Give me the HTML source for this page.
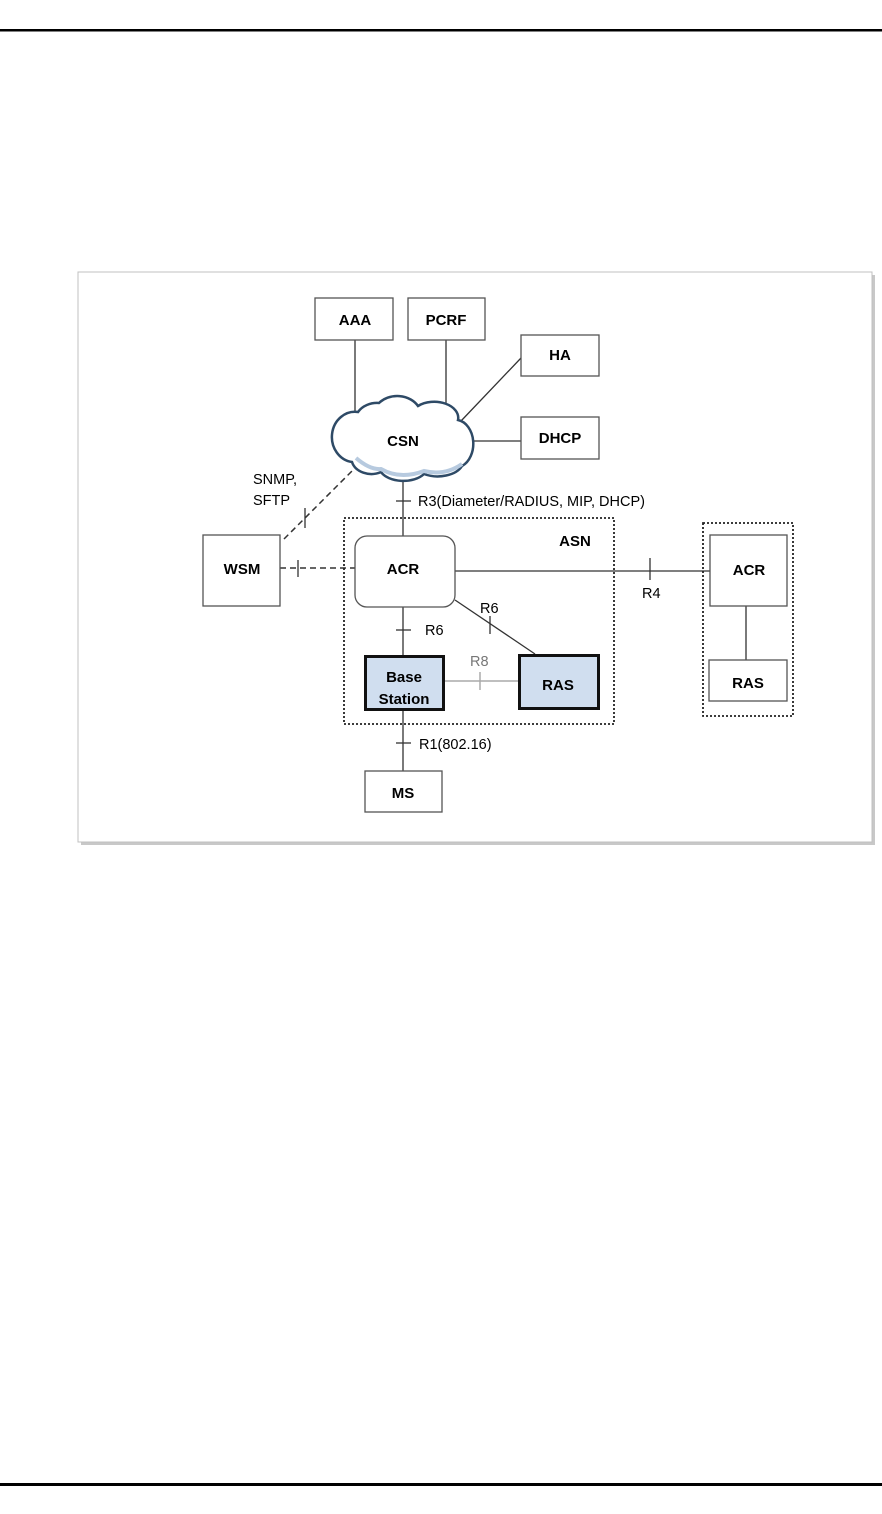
<!DOCTYPE html>
<html><head><meta charset="utf-8"><style>
html,body{margin:0;padding:0;background:#fff;}
svg{display:block;}
text{font-family:"Liberation Sans",Arial,sans-serif;}
.b{font-weight:bold;font-size:15px;fill:#000;text-anchor:middle;}
.l{font-size:14.5px;fill:#000;}
</style></head><body>
<svg width="882" height="1514" viewBox="0 0 882 1514" xmlns="http://www.w3.org/2000/svg">
<rect x="0" y="29" width="882" height="2.5" fill="#000"/>
<rect x="0" y="1483" width="882" height="3" fill="#000"/>
<!-- frame with shadow -->
<rect x="81" y="275" width="794" height="570" fill="#c8c8c8"/>
<rect x="78" y="272" width="794" height="570" fill="#fff" stroke="#c0c0c0" stroke-width="1"/>
<g stroke="#333" stroke-width="1.3" fill="none">
<line x1="355" y1="340" x2="355" y2="412"/>
<line x1="446" y1="340" x2="446" y2="417"/>
<line x1="521" y1="358" x2="461" y2="421"/>
<line x1="468" y1="441" x2="521" y2="441"/>
<line x1="403" y1="480" x2="403" y2="537"/>
<line x1="396" y1="501" x2="411" y2="501"/>
<line x1="455" y1="571" x2="710" y2="571"/>
<line x1="650" y1="558" x2="650" y2="580"/>
<line x1="746" y1="606" x2="746" y2="660"/>
<line x1="403" y1="607" x2="403" y2="656"/>
<line x1="396" y1="630" x2="411" y2="630"/>
<line x1="455" y1="600" x2="535" y2="654"/>
<line x1="490" y1="616" x2="490" y2="634"/>
<line x1="403" y1="709" x2="403" y2="771"/>
<line x1="396" y1="743" x2="411" y2="743"/>
<line x1="305" y1="508" x2="305" y2="528"/>
<line x1="298" y1="560" x2="298" y2="577"/>
</g>
<g stroke="#aaa" stroke-width="1.5">
<line x1="443" y1="681" x2="519" y2="681"/>
<line x1="480" y1="672" x2="480" y2="690"/>
</g>
<g stroke="#333" stroke-width="1.5" stroke-dasharray="6,4" fill="none">
<line x1="284" y1="539" x2="356" y2="467"/>
<line x1="280" y1="568" x2="355" y2="568"/>
</g>
<!-- dotted groups -->
<rect x="344" y="518" width="270" height="206" fill="none" stroke="#222" stroke-width="1.8" stroke-dasharray="2,2"/>
<rect x="703" y="523" width="90" height="193" fill="none" stroke="#222" stroke-width="1.8" stroke-dasharray="2,2"/>
<!-- boxes -->
<g fill="#fff" stroke="#555" stroke-width="1.3">
<rect x="315" y="298" width="78" height="42"/>
<rect x="408" y="298" width="77" height="42"/>
<rect x="521" y="335" width="78" height="41"/>
<rect x="521" y="417" width="78" height="42"/>
<rect x="203" y="535" width="77" height="71"/>
<rect x="355" y="536" width="100" height="71" rx="12"/>
<rect x="710" y="535" width="77" height="71"/>
<rect x="709" y="660" width="78" height="41"/>
<rect x="365" y="771" width="77" height="41"/>
</g>
<g fill="#d0deef" stroke="#111" stroke-width="3">
<rect x="365.5" y="656.5" width="78" height="53"/>
<rect x="519.5" y="655.5" width="79" height="53"/>
</g>
<!-- cloud -->
<path d="M352,462 A22,24 0 0 1 358,412 A22,18 0 0 1 379,403 A24,20 0 0 1 418,406 A24,16 0 0 1 458,420 A18,24 0 0 1 462,466 A26,16 0 0 1 424,474 A24,14 0 0 1 381,472 A20,16 0 0 1 352,462 Z" fill="#fff" stroke="#2e4a66" stroke-width="2.5"/>
<path d="M356,458 Q370,470 381,469 Q400,480 424,471 Q445,476 462,464" fill="none" stroke="#b7cadf" stroke-width="4"/>
<!-- labels -->
<text class="b" x="355" y="325">AAA</text>
<text class="b" x="446" y="325">PCRF</text>
<text class="b" x="560" y="360">HA</text>
<text class="b" x="560" y="443">DHCP</text>
<text class="b" x="403" y="446">CSN</text>
<text class="b" x="242" y="574">WSM</text>
<text class="b" x="403" y="574">ACR</text>
<text class="b" x="575" y="546">ASN</text>
<text class="b" x="749" y="575">ACR</text>
<text class="b" x="748" y="688">RAS</text>
<text class="b" x="404" y="682">Base</text>
<text class="b" x="404" y="704">Station</text>
<text class="b" x="558" y="690">RAS</text>
<text class="b" x="403" y="798">MS</text>
<text class="l" x="253" y="484">SNMP,</text>
<text class="l" x="253" y="505">SFTP</text>
<text class="l" x="418" y="506">R3(Diameter/RADIUS, MIP, DHCP)</text>
<text class="l" x="642" y="598">R4</text>
<text class="l" x="425" y="635">R6</text>
<text class="l" x="480" y="613">R6</text>
<text class="l" x="470" y="666" style="fill:#777">R8</text>
<text class="l" x="419" y="749">R1(802.16)</text>
</svg>
</body></html>
